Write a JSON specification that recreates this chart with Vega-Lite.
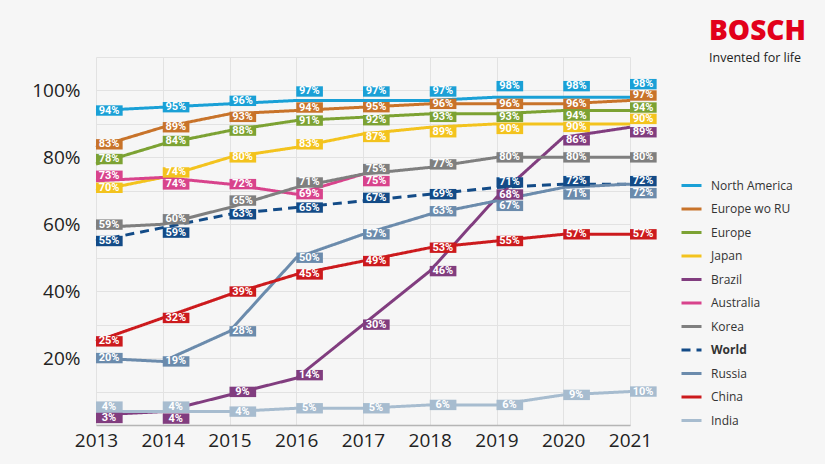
{
  "$schema": "https://vega.github.io/schema/vega-lite/v6.json",
  "width": 534,
  "height": 368,
  "autosize": "none",
  "padding": {"left": 96, "top": 57, "right": 195, "bottom": 39},
  "background": "#f6f6f6",
  "config": {"view": {"stroke": null}},
  "title": {"text": "BOSCH", "subtitle": "Invented for life", "anchor": "start", "frame": "group", "dx": 613, "dy": 7, "offset": 0, "font": "Open Sans", "fontSize": 28, "fontWeight": 800, "color": "#e2001a", "subtitleFont": "Open Sans", "subtitleFontSize": 12.5, "subtitleColor": "#222222", "subtitlePadding": 6},
  "data": {"values": [
    {"series": "North America", "year": 2013, "value": 0.94},
    {"series": "North America", "year": 2014, "value": 0.95},
    {"series": "North America", "year": 2015, "value": 0.96},
    {"series": "North America", "year": 2016, "value": 0.97},
    {"series": "North America", "year": 2017, "value": 0.97},
    {"series": "North America", "year": 2018, "value": 0.97},
    {"series": "North America", "year": 2019, "value": 0.98},
    {"series": "North America", "year": 2020, "value": 0.98},
    {"series": "North America", "year": 2021, "value": 0.98},
    {"series": "Europe wo RU", "year": 2013, "value": 0.83},
    {"series": "Europe wo RU", "year": 2014, "value": 0.89},
    {"series": "Europe wo RU", "year": 2015, "value": 0.93},
    {"series": "Europe wo RU", "year": 2016, "value": 0.94},
    {"series": "Europe wo RU", "year": 2017, "value": 0.95},
    {"series": "Europe wo RU", "year": 2018, "value": 0.96},
    {"series": "Europe wo RU", "year": 2019, "value": 0.96},
    {"series": "Europe wo RU", "year": 2020, "value": 0.96},
    {"series": "Europe wo RU", "year": 2021, "value": 0.97},
    {"series": "Europe", "year": 2013, "value": 0.78},
    {"series": "Europe", "year": 2014, "value": 0.84},
    {"series": "Europe", "year": 2015, "value": 0.88},
    {"series": "Europe", "year": 2016, "value": 0.91},
    {"series": "Europe", "year": 2017, "value": 0.92},
    {"series": "Europe", "year": 2018, "value": 0.93},
    {"series": "Europe", "year": 2019, "value": 0.93},
    {"series": "Europe", "year": 2020, "value": 0.94},
    {"series": "Europe", "year": 2021, "value": 0.94},
    {"series": "Japan", "year": 2013, "value": 0.70},
    {"series": "Japan", "year": 2014, "value": 0.74},
    {"series": "Japan", "year": 2015, "value": 0.80},
    {"series": "Japan", "year": 2016, "value": 0.83},
    {"series": "Japan", "year": 2017, "value": 0.87},
    {"series": "Japan", "year": 2018, "value": 0.89},
    {"series": "Japan", "year": 2019, "value": 0.90},
    {"series": "Japan", "year": 2020, "value": 0.90},
    {"series": "Japan", "year": 2021, "value": 0.90},
    {"series": "Brazil", "year": 2013, "value": 0.03},
    {"series": "Brazil", "year": 2014, "value": 0.04},
    {"series": "Brazil", "year": 2015, "value": 0.09},
    {"series": "Brazil", "year": 2016, "value": 0.14},
    {"series": "Brazil", "year": 2017, "value": 0.30},
    {"series": "Brazil", "year": 2018, "value": 0.46},
    {"series": "Brazil", "year": 2019, "value": 0.68},
    {"series": "Brazil", "year": 2020, "value": 0.86},
    {"series": "Brazil", "year": 2021, "value": 0.89},
    {"series": "Australia", "year": 2013, "value": 0.73},
    {"series": "Australia", "year": 2014, "value": 0.74},
    {"series": "Australia", "year": 2015, "value": 0.72},
    {"series": "Australia", "year": 2016, "value": 0.69},
    {"series": "Australia", "year": 2017, "value": 0.75},
    {"series": "Korea", "year": 2013, "value": 0.59},
    {"series": "Korea", "year": 2014, "value": 0.60},
    {"series": "Korea", "year": 2015, "value": 0.65},
    {"series": "Korea", "year": 2016, "value": 0.71},
    {"series": "Korea", "year": 2017, "value": 0.75},
    {"series": "Korea", "year": 2018, "value": 0.77},
    {"series": "Korea", "year": 2019, "value": 0.80},
    {"series": "Korea", "year": 2020, "value": 0.80},
    {"series": "Korea", "year": 2021, "value": 0.80},
    {"series": "World", "year": 2013, "value": 0.55},
    {"series": "World", "year": 2014, "value": 0.59},
    {"series": "World", "year": 2015, "value": 0.63},
    {"series": "World", "year": 2016, "value": 0.65},
    {"series": "World", "year": 2017, "value": 0.67},
    {"series": "World", "year": 2018, "value": 0.69},
    {"series": "World", "year": 2019, "value": 0.71},
    {"series": "World", "year": 2020, "value": 0.72},
    {"series": "World", "year": 2021, "value": 0.72},
    {"series": "Russia", "year": 2013, "value": 0.20},
    {"series": "Russia", "year": 2014, "value": 0.19},
    {"series": "Russia", "year": 2015, "value": 0.28},
    {"series": "Russia", "year": 2016, "value": 0.50},
    {"series": "Russia", "year": 2017, "value": 0.57},
    {"series": "Russia", "year": 2018, "value": 0.63},
    {"series": "Russia", "year": 2019, "value": 0.67},
    {"series": "Russia", "year": 2020, "value": 0.71},
    {"series": "Russia", "year": 2021, "value": 0.72},
    {"series": "China", "year": 2013, "value": 0.25},
    {"series": "China", "year": 2014, "value": 0.32},
    {"series": "China", "year": 2015, "value": 0.39},
    {"series": "China", "year": 2016, "value": 0.45},
    {"series": "China", "year": 2017, "value": 0.49},
    {"series": "China", "year": 2018, "value": 0.53},
    {"series": "China", "year": 2019, "value": 0.55},
    {"series": "China", "year": 2020, "value": 0.57},
    {"series": "China", "year": 2021, "value": 0.57},
    {"series": "India", "year": 2013, "value": 0.04},
    {"series": "India", "year": 2014, "value": 0.04},
    {"series": "India", "year": 2015, "value": 0.04},
    {"series": "India", "year": 2016, "value": 0.05},
    {"series": "India", "year": 2017, "value": 0.05},
    {"series": "India", "year": 2018, "value": 0.06},
    {"series": "India", "year": 2019, "value": 0.06},
    {"series": "India", "year": 2020, "value": 0.09},
    {"series": "India", "year": 2021, "value": 0.10}
  ]},
  "encoding": {
    "x": {"field": "year", "type": "quantitative", "scale": {"domain": [2013, 2021], "nice": false, "zero": false},
      "axis": {"values": [2013, 2014, 2015, 2016, 2017, 2018, 2019, 2020, 2021], "format": "d", "title": null, "labelFont": "Open Sans", "labelFontSize": 19, "labelColor": "#222222", "labelPadding": 6, "ticks": false, "domainColor": "#b5b5b5", "domainWidth": 1.5, "gridColor": "#e2e2e2", "labelFlush": false}},
    "y": {"field": "value", "type": "quantitative", "scale": {"domain": [0, 1.1], "nice": false},
      "axis": {"values": [0, 0.1, 0.2, 0.3, 0.4, 0.5, 0.6, 0.7, 0.8, 0.9, 1.0, 1.1], "format": ".0%", "labelExpr": "datum.value > 0.15 && datum.value < 1.05 && round(datum.value * 10) % 2 == 0 ? datum.label : ''", "title": null, "labelFont": "Open Sans", "labelFontSize": 19, "labelColor": "#222222", "labelPadding": 16, "ticks": false, "domain": false, "gridColor": "#e2e2e2"}}
  },
  "layer": [
    {
      "mark": {"type": "line", "strokeWidth": 3},
      "encoding": {
        "color": {"field": "series", "type": "nominal",
          "scale": {"domain": ["North America", "Europe wo RU", "Europe", "Japan", "Brazil", "Australia", "Korea", "World", "Russia", "China", "India"],
                    "range": ["#1aa0d6", "#c8732a", "#7ca233", "#f3c31e", "#813d7f", "#d8438c", "#7f7f7f", "#134b87", "#6b8bac", "#cc1a1d", "#a7bccf"]},
          "legend": {"title": null, "orient": "none", "legendX": 584, "legendY": 117, "symbolType": "stroke", "symbolSize": 400, "symbolStrokeWidth": 3, "labelFont": "Open Sans", "labelFontSize": 12, "labelColor": "#333333", "rowPadding": 5.5, "labelOffset": 8,
            "encode": {"labels": {"update": {"fontWeight": {"signal": "datum.label === 'World' ? 'bold' : 'normal'"}}}}}},
        "strokeDash": {"field": "series", "type": "nominal",
          "scale": {"domain": ["North America", "Europe wo RU", "Europe", "Japan", "Brazil", "Australia", "Korea", "World", "Russia", "China", "India"],
                    "range": [[1, 0], [1, 0], [1, 0], [1, 0], [1, 0], [1, 0], [1, 0], [9, 6], [1, 0], [1, 0], [1, 0]]},
          "legend": {"title": null, "orient": "none", "legendX": 584, "legendY": 117, "symbolType": "stroke", "symbolSize": 400, "symbolStrokeWidth": 3, "labelFont": "Open Sans", "labelFontSize": 12, "labelColor": "#333333", "rowPadding": 5.5, "labelOffset": 8,
            "encode": {"labels": {"update": {"fontWeight": {"signal": "datum.label === 'World' ? 'bold' : 'normal'"}}}}}}
      }
    },
    {
      "transform": [{"filter": "indexof(['North America|2021','North America|2019','North America|2020','North America|2016','North America|2017','North America|2018','Korea|2015','Europe|2013','Australia|2013','Japan|2014','Korea|2014','India|2013','India|2014','Korea|2017','World|2019','Korea|2016','Japan|2021','Europe wo RU|2021','Europe wo RU|2013','Japan|2013','Korea|2013','China|2015','Europe wo RU|2016','Japan|2016','Brazil|2016','World|2017','Russia|2018','North America|2015','Europe|2014','Brazil|2015','World|2020','World|2021','Europe|2021','Brazil|2019','Korea|2018','Brazil|2013','World|2014','Japan|2017','Japan|2020','Brazil|2020','Europe wo RU|2015','Europe|2017','Europe|2018','Europe|2019','Japan|2018','Russia|2019','Europe|2020','Japan|2019','Brazil|2021','Australia|2017','Russia|2020','Australia|2014','Brazil|2014','Russia|2021'], datum.series + '|' + datum.year) < 0"}],
      "layer": [
        {"mark": {"type": "point", "shape": "M0,-0.4H2.05V0.4H0Z", "filled": true, "size": 676, "opacity": 1, "strokeWidth": 0, "yOffset": 0}, "encoding": {"color": {"field": "series", "type": "nominal", "legend": null}}},
        {"mark": {"type": "text", "font": "Roboto", "fontWeight": "bold", "fontSize": 11, "color": "white", "align": "center", "baseline": "middle", "dx": 13, "yOffset": 0}, "encoding": {"text": {"field": "value", "type": "quantitative", "format": ".0%"}}}
      ]
    },
    {
      "transform": [{"filter": "indexof(['North America|2021'], datum.series + '|' + datum.year) >= 0"}],
      "layer": [
        {"mark": {"type": "point", "shape": "M0,-0.4H2.05V0.4H0Z", "filled": true, "size": 676, "opacity": 1, "strokeWidth": 0, "yOffset": -13}, "encoding": {"color": {"field": "series", "type": "nominal", "legend": null}}},
        {"mark": {"type": "text", "font": "Roboto", "fontWeight": "bold", "fontSize": 11, "color": "white", "align": "center", "baseline": "middle", "dx": 13, "yOffset": -13}, "encoding": {"text": {"field": "value", "type": "quantitative", "format": ".0%"}}}
      ]
    },
    {
      "transform": [{"filter": "indexof(['North America|2019','North America|2020'], datum.series + '|' + datum.year) >= 0"}],
      "layer": [
        {"mark": {"type": "point", "shape": "M0,-0.4H2.05V0.4H0Z", "filled": true, "size": 676, "opacity": 1, "strokeWidth": 0, "yOffset": -11}, "encoding": {"color": {"field": "series", "type": "nominal", "legend": null}}},
        {"mark": {"type": "text", "font": "Roboto", "fontWeight": "bold", "fontSize": 11, "color": "white", "align": "center", "baseline": "middle", "dx": 13, "yOffset": -11}, "encoding": {"text": {"field": "value", "type": "quantitative", "format": ".0%"}}}
      ]
    },
    {
      "transform": [{"filter": "indexof(['North America|2016','North America|2017','North America|2018'], datum.series + '|' + datum.year) >= 0"}],
      "layer": [
        {"mark": {"type": "point", "shape": "M0,-0.4H2.05V0.4H0Z", "filled": true, "size": 676, "opacity": 1, "strokeWidth": 0, "yOffset": -9}, "encoding": {"color": {"field": "series", "type": "nominal", "legend": null}}},
        {"mark": {"type": "text", "font": "Roboto", "fontWeight": "bold", "fontSize": 11, "color": "white", "align": "center", "baseline": "middle", "dx": 13, "yOffset": -9}, "encoding": {"text": {"field": "value", "type": "quantitative", "format": ".0%"}}}
      ]
    },
    {
      "transform": [{"filter": "indexof(['Korea|2015'], datum.series + '|' + datum.year) >= 0"}],
      "layer": [
        {"mark": {"type": "point", "shape": "M0,-0.4H2.05V0.4H0Z", "filled": true, "size": 676, "opacity": 1, "strokeWidth": 0, "yOffset": -7}, "encoding": {"color": {"field": "series", "type": "nominal", "legend": null}}},
        {"mark": {"type": "text", "font": "Roboto", "fontWeight": "bold", "fontSize": 11, "color": "white", "align": "center", "baseline": "middle", "dx": 13, "yOffset": -7}, "encoding": {"text": {"field": "value", "type": "quantitative", "format": ".0%"}}}
      ]
    },
    {
      "transform": [{"filter": "indexof(['Europe|2013','Australia|2013','Japan|2014','Korea|2014','India|2013','India|2014','Korea|2017','World|2019','Korea|2016','Japan|2021','Europe wo RU|2021'], datum.series + '|' + datum.year) >= 0"}],
      "layer": [
        {"mark": {"type": "point", "shape": "M0,-0.4H2.05V0.4H0Z", "filled": true, "size": 676, "opacity": 1, "strokeWidth": 0, "yOffset": -5}, "encoding": {"color": {"field": "series", "type": "nominal", "legend": null}}},
        {"mark": {"type": "text", "font": "Roboto", "fontWeight": "bold", "fontSize": 11, "color": "white", "align": "center", "baseline": "middle", "dx": 13, "yOffset": -5}, "encoding": {"text": {"field": "value", "type": "quantitative", "format": ".0%"}}}
      ]
    },
    {
      "transform": [{"filter": "indexof(['Europe wo RU|2013','Japan|2013','Korea|2013','China|2015','Europe wo RU|2016','Japan|2016','Brazil|2016','World|2017','Russia|2018','North America|2015','Europe|2014','Brazil|2015','World|2020','World|2021','Europe|2021','Brazil|2019','Korea|2018'], datum.series + '|' + datum.year) >= 0"}],
      "layer": [
        {"mark": {"type": "point", "shape": "M0,-0.4H2.05V0.4H0Z", "filled": true, "size": 676, "opacity": 1, "strokeWidth": 0, "yOffset": -3}, "encoding": {"color": {"field": "series", "type": "nominal", "legend": null}}},
        {"mark": {"type": "text", "font": "Roboto", "fontWeight": "bold", "fontSize": 11, "color": "white", "align": "center", "baseline": "middle", "dx": 13, "yOffset": -3}, "encoding": {"text": {"field": "value", "type": "quantitative", "format": ".0%"}}}
      ]
    },
    {
      "transform": [{"filter": "indexof(['Brazil|2013','Japan|2017','Japan|2020','Brazil|2020','Europe wo RU|2015','Europe|2017','Europe|2018','Europe|2019'], datum.series + '|' + datum.year) >= 0"}],
      "layer": [
        {"mark": {"type": "point", "shape": "M0,-0.4H2.05V0.4H0Z", "filled": true, "size": 676, "opacity": 1, "strokeWidth": 0, "yOffset": 3}, "encoding": {"color": {"field": "series", "type": "nominal", "legend": null}}},
        {"mark": {"type": "text", "font": "Roboto", "fontWeight": "bold", "fontSize": 11, "color": "white", "align": "center", "baseline": "middle", "dx": 13, "yOffset": 3}, "encoding": {"text": {"field": "value", "type": "quantitative", "format": ".0%"}}}
      ]
    },
    {
      "transform": [{"filter": "indexof(['Japan|2018','Russia|2019','Europe|2020','Japan|2019','Brazil|2021','World|2014'], datum.series + '|' + datum.year) >= 0"}],
      "layer": [
        {"mark": {"type": "point", "shape": "M0,-0.4H2.05V0.4H0Z", "filled": true, "size": 676, "opacity": 1, "strokeWidth": 0, "yOffset": 5}, "encoding": {"color": {"field": "series", "type": "nominal", "legend": null}}},
        {"mark": {"type": "text", "font": "Roboto", "fontWeight": "bold", "fontSize": 11, "color": "white", "align": "center", "baseline": "middle", "dx": 13, "yOffset": 5}, "encoding": {"text": {"field": "value", "type": "quantitative", "format": ".0%"}}}
      ]
    },
    {
      "transform": [{"filter": "indexof(['Australia|2017','Russia|2020','Australia|2014','Brazil|2014'], datum.series + '|' + datum.year) >= 0"}],
      "layer": [
        {"mark": {"type": "point", "shape": "M0,-0.4H2.05V0.4H0Z", "filled": true, "size": 676, "opacity": 1, "strokeWidth": 0, "yOffset": 7}, "encoding": {"color": {"field": "series", "type": "nominal", "legend": null}}},
        {"mark": {"type": "text", "font": "Roboto", "fontWeight": "bold", "fontSize": 11, "color": "white", "align": "center", "baseline": "middle", "dx": 13, "yOffset": 7}, "encoding": {"text": {"field": "value", "type": "quantitative", "format": ".0%"}}}
      ]
    },
    {
      "transform": [{"filter": "indexof(['Russia|2021'], datum.series + '|' + datum.year) >= 0"}],
      "layer": [
        {"mark": {"type": "point", "shape": "M0,-0.4H2.05V0.4H0Z", "filled": true, "size": 676, "opacity": 1, "strokeWidth": 0, "yOffset": 9}, "encoding": {"color": {"field": "series", "type": "nominal", "legend": null}}},
        {"mark": {"type": "text", "font": "Roboto", "fontWeight": "bold", "fontSize": 11, "color": "white", "align": "center", "baseline": "middle", "dx": 13, "yOffset": 9}, "encoding": {"text": {"field": "value", "type": "quantitative", "format": ".0%"}}}
      ]
    }
  ]
}
